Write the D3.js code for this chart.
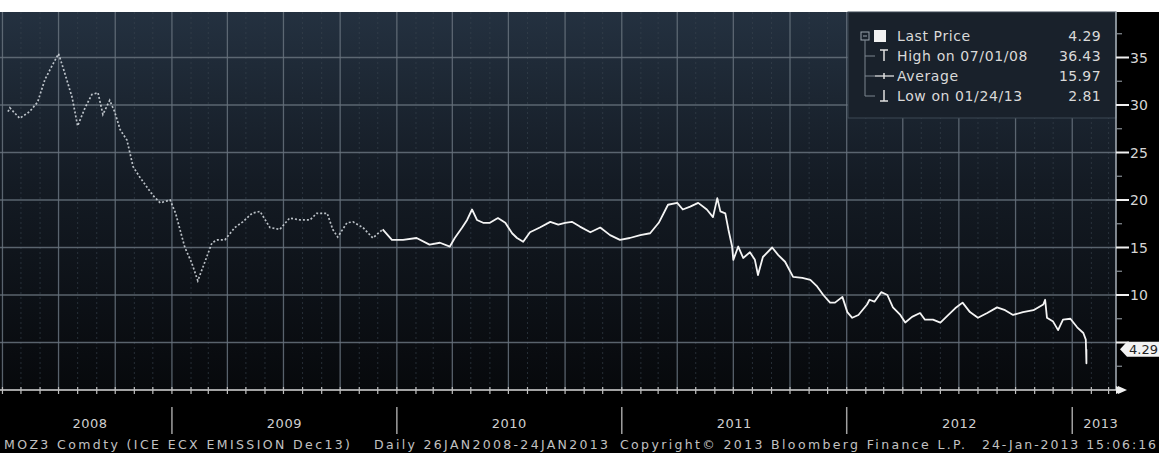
<!DOCTYPE html>
<html>
<head>
<meta charset="utf-8">
<script src="https://cdn.jsdelivr.net/npm/d3@7"></script>
<style>
  html, body { margin: 0; padding: 0; background: #000; }
  svg { display: block; }
  text { font-family: "DejaVu Sans", Verdana, sans-serif; }
</style>
</head>
<body>
<svg id="chart" width="1159" height="453"></svg>
<script>
// ---------------- DATA ----------------
const dates = [
  "2008-04-10","2008-04-13","2008-04-29","2008-05-15","2008-05-28","2008-06-09","2008-06-17","2008-07-01",
  "2008-07-08","2008-07-16","2008-07-23","2008-08-01","2008-08-13","2008-08-24","2008-09-03","2008-09-11",
  "2008-09-22","2008-09-30","2008-10-09","2008-10-20","2008-10-30","2008-11-10","2008-11-21","2008-12-01",
  "2008-12-13","2008-12-29",
  "2009-01-07","2009-01-14","2009-01-22","2009-02-02","2009-02-12","2009-02-23","2009-03-07","2009-03-16",
  "2009-03-28","2009-04-13","2009-04-26","2009-05-11","2009-05-24","2009-06-09","2009-06-25","2009-07-11",
  "2009-07-28","2009-08-13","2009-08-24","2009-09-10","2009-09-19","2009-09-27","2009-10-12","2009-10-22",
  "2009-11-07","2009-11-23","2009-12-09","2009-12-24",
  "2010-01-11","2010-02-02","2010-02-23","2010-03-12","2010-03-28","2010-04-05","2010-04-17","2010-04-25",
  "2010-05-03","2010-05-11","2010-05-21","2010-06-01","2010-06-14","2010-06-26","2010-07-07","2010-07-15",
  "2010-07-25","2010-08-05","2010-08-21","2010-09-07","2010-09-20","2010-10-01","2010-10-12","2010-10-25",
  "2010-11-11","2010-11-27","2010-12-13","2010-12-29",
  "2011-01-14","2011-01-31","2011-02-16","2011-03-02","2011-03-17","2011-04-01","2011-04-10","2011-04-22",
  "2011-05-05","2011-05-19","2011-05-29","2011-06-05","2011-06-10","2011-06-18","2011-06-23","2011-06-29",
  "2011-07-01","2011-07-09","2011-07-17","2011-07-28","2011-08-05","2011-08-10","2011-08-18","2011-09-02",
  "2011-09-12","2011-09-23","2011-10-06","2011-10-21","2011-11-03","2011-11-14","2011-11-24","2011-12-05",
  "2011-12-13","2011-12-25",
  "2012-01-02","2012-01-10","2012-01-20","2012-02-03","2012-02-07","2012-02-15","2012-02-26","2012-03-07",
  "2012-03-16","2012-03-28","2012-04-05","2012-04-16","2012-04-29","2012-05-07","2012-05-20","2012-06-01",
  "2012-06-14","2012-06-25","2012-07-07","2012-07-19","2012-08-01","2012-08-16","2012-09-01","2012-09-14",
  "2012-09-27","2012-10-13","2012-10-30","2012-11-15","2012-11-18","2012-11-21","2012-12-01","2012-12-09",
  "2012-12-17","2012-12-29",
  "2013-01-09","2013-01-19","2013-01-23","2013-01-24","2013-01-24"
];
const prices = [
  29.3,29.7,28.6,29.3,30.3,32.7,33.7,35.4,
  34.0,32.3,30.8,27.8,29.7,31.1,31.3,29.0,
  30.5,29.3,27.4,26.3,23.5,22.4,21.4,20.5,
  19.7,20.0,
  18.6,16.9,15.0,13.4,11.5,13.4,15.5,15.8,
  15.8,17.1,17.7,18.6,18.8,17.1,16.9,18.1,
  17.9,17.9,18.6,18.6,16.9,16.1,17.6,17.7,
  17.1,16.0,16.9,15.8,
  15.8,16.0,15.3,15.5,15.1,16.0,17.1,17.9,
  19.0,17.9,17.6,17.6,18.1,17.6,16.5,16.0,
  15.6,16.6,17.1,17.7,17.4,17.6,17.7,17.2,
  16.6,17.1,16.3,15.8,
  16.0,16.3,16.5,17.6,19.5,19.7,19.0,19.3,
  19.7,19.0,18.2,20.2,18.8,18.6,16.9,15.1,
  13.7,15.1,13.9,14.5,13.7,12.1,14.0,15.0,
  14.2,13.5,11.9,11.8,11.6,10.9,10.0,9.2,
  9.2,9.8,
  8.2,7.6,7.9,9.0,9.5,9.3,10.3,10.0,
  8.7,7.9,7.1,7.7,8.1,7.4,7.4,7.1,
  7.9,8.6,9.2,8.2,7.6,8.1,8.7,8.4,
  7.9,8.2,8.4,9.0,9.5,7.6,7.2,6.3,
  7.4,7.5,
  6.6,6.0,5.3,2.81,4.29
];
const yTickValues = [35, 30, 25, 20, 15, 10];
const yMinorValues = [2.5, 7.5, 12.5, 17.5, 22.5, 27.5, 32.5, 37.5];
const yGridValues = [5, 10, 15, 20, 25, 30, 35];
const yearLabels = ["2008", "2009", "2010", "2011", "2012", "2013"];
const legendLabels = ["Last Price", "High on 07/01/08", "Average", "Low on 01/24/13"];
const legendValues = ["4.29", "36.43", "15.97", "2.81"];
const lastPrice = 4.29;
const lastPriceLabel = "4.29";
const footerParts = [
  "MOZ3 Comdty (ICE ECX EMISSION  Dec13)",
  "Daily 26JAN2008-24JAN2013",
  "Copyright\u00A9 2013 Bloomberg Finance L.P.",
  "24-Jan-2013 15:06:16"
];
const dottedUntil = "2009-12-20";

// ---------------- LAYOUT ----------------
const W = 1159, H = 453;
const plot = { left: 0, right: 1116, top: 12, bottom: 390 };
const parse = d3.utcParse("%Y-%m-%d");
const data = dates.map((d, i) => ({ date: parse(d), value: prices[i] }));

const x = d3.scaleUtc()
  .domain([parse("2008-03-28"), parse("2013-03-13")])
  .range([plot.left, plot.right]);
const y = d3.scaleLinear().domain([0, 40]).range([390, 10]);

const svg = d3.select("#chart");
const defs = svg.append("defs");

const grad = defs.append("linearGradient").attr("id", "bg")
  .attr("x1", 0).attr("y1", 0).attr("x2", 0).attr("y2", 1);
grad.append("stop").attr("offset", "0%").attr("stop-color", "#243140");
grad.append("stop").attr("offset", "45%").attr("stop-color", "#141b24");
grad.append("stop").attr("offset", "100%").attr("stop-color", "#07090c");

defs.append("clipPath").attr("id", "plotClip").append("rect")
  .attr("x", plot.left).attr("y", plot.top)
  .attr("width", plot.right - plot.left).attr("height", plot.bottom - plot.top);
defs.append("clipPath").attr("id", "yearClip").append("rect")
  .attr("x", 0).attr("y", 395).attr("width", 1120).attr("height", 45);

// page background
svg.append("rect").attr("width", W).attr("height", H).attr("fill", "#000");
svg.append("rect").attr("width", W).attr("height", plot.top).attr("fill", "#ffffff");

// plot background
svg.append("rect")
  .attr("x", plot.left).attr("y", plot.top)
  .attr("width", plot.right - plot.left).attr("height", plot.bottom - plot.top)
  .attr("fill", "url(#bg)");

const gridG = svg.append("g").attr("clip-path", "url(#plotClip)");

// minor monthly vertical lines
const months = x.ticks(d3.utcMonth.every(1)).filter(d => d.getUTCMonth() % 3 !== 0);
gridG.selectAll("line.vminor").data(months).join("line")
  .attr("x1", d => x(d)).attr("x2", d => x(d))
  .attr("y1", plot.top).attr("y2", plot.bottom)
  .attr("stroke", "#3a4550").attr("stroke-width", 1)
  .attr("stroke-dasharray", "2,3").attr("opacity", 0.6);

// quarterly vertical grid lines
const quarters = x.ticks(d3.utcMonth.every(3));
gridG.selectAll("line.vgrid").data(quarters).join("line")
  .attr("x1", d => x(d)).attr("x2", d => x(d))
  .attr("y1", plot.top).attr("y2", plot.bottom)
  .attr("stroke", "#67727d").attr("stroke-width", 1.3).attr("opacity", 0.85);

// horizontal grid lines
gridG.selectAll("line.hgrid").data(yGridValues).join("line")
  .attr("x1", plot.left).attr("x2", plot.right)
  .attr("y1", d => y(d)).attr("y2", d => y(d))
  .attr("stroke", "#67727d").attr("stroke-width", 1.3).attr("opacity", 0.85);

// price line
const line = d3.line().x(d => x(d.date)).y(d => y(d.value));
const cut = parse(dottedUntil);
const early = data.filter(d => d.date <= cut);
const late = data.filter(d => d.date >= early[early.length - 1].date);
const lineG = svg.append("g").attr("clip-path", "url(#plotClip)");
lineG.append("path").datum(early).attr("d", line)
  .attr("fill", "none").attr("stroke", "#d8dee4").attr("stroke-width", 1.7)
  .attr("stroke-dasharray", "2,2").attr("opacity", 0.85);
lineG.append("path").datum(late).attr("d", line)
  .attr("fill", "none").attr("stroke", "#f4f4f4").attr("stroke-width", 1.8)
  .attr("stroke-linejoin", "round");

// ---------------- LEGEND ----------------
const lg = svg.append("g");
lg.append("rect").attr("x", 848).attr("y", 12).attr("width", 268).attr("height", 106)
  .attr("fill", "#19212b").attr("stroke", "#3d4855").attr("stroke-width", 1);
const rowY = i => 36 + i * 20;
// tree
lg.append("rect").attr("x", 861).attr("y", 32).attr("width", 8).attr("height", 8)
  .attr("fill", "none").attr("stroke", "#9aa3ad").attr("stroke-width", 1);
lg.append("line").attr("x1", 863).attr("x2", 867).attr("y1", 36).attr("y2", 36).attr("stroke", "#9aa3ad");
lg.append("line").attr("x1", 865).attr("x2", 865).attr("y1", 40).attr("y2", rowY(3))
  .attr("stroke", "#7d8690").attr("stroke-width", 1);
[1, 2, 3].forEach(i => {
  lg.append("line").attr("x1", 865).attr("x2", 875).attr("y1", rowY(i)).attr("y2", rowY(i))
    .attr("stroke", "#7d8690").attr("stroke-width", 1);
});
// icons
lg.append("rect").attr("x", 874).attr("y", 30).attr("width", 12).attr("height", 12).attr("fill", "#f2f2f2");
lg.append("line").attr("x1", 880).attr("x2", 888).attr("y1", rowY(1) - 6).attr("y2", rowY(1) - 6).attr("stroke", "#e0e0e0").attr("stroke-width", 1.5);
lg.append("line").attr("x1", 884).attr("x2", 884).attr("y1", rowY(1) - 6).attr("y2", rowY(1) + 5).attr("stroke", "#e0e0e0").attr("stroke-width", 1.5);
lg.append("line").attr("x1", 875).attr("x2", 894).attr("y1", rowY(2)).attr("y2", rowY(2)).attr("stroke", "#e0e0e0").attr("stroke-width", 1.3);
lg.append("line").attr("x1", 884).attr("x2", 884).attr("y1", rowY(2) - 3).attr("y2", rowY(2) + 3).attr("stroke", "#e0e0e0").attr("stroke-width", 1.5);
lg.append("line").attr("x1", 880).attr("x2", 888).attr("y1", rowY(3) + 5).attr("y2", rowY(3) + 5).attr("stroke", "#e0e0e0").attr("stroke-width", 1.5);
lg.append("line").attr("x1", 884).attr("x2", 884).attr("y1", rowY(3) - 6).attr("y2", rowY(3) + 5).attr("stroke", "#e0e0e0").attr("stroke-width", 1.5);

lg.selectAll("text.lab").data(legendLabels).join("text")
  .attr("x", 897).attr("y", (d, i) => rowY(i)).attr("dy", "0.36em")
  .attr("fill", "#d9d9d9").attr("font-size", 14).attr("letter-spacing", 0.6)
  .text(d => d);
lg.selectAll("text.val").data(legendValues).join("text")
  .attr("x", 1101).attr("y", (d, i) => rowY(i)).attr("dy", "0.36em")
  .attr("text-anchor", "end")
  .attr("fill", "#d9d9d9").attr("font-size", 14).attr("letter-spacing", 0.4)
  .text(d => d);

// ---------------- RIGHT AXIS ----------------
const ax = svg.append("g");
ax.append("line").attr("x1", plot.right).attr("x2", plot.right)
  .attr("y1", plot.top).attr("y2", plot.bottom)
  .attr("stroke", "#a9b0b8").attr("stroke-width", 1.5);
ax.selectAll("line.minor").data(yMinorValues).join("line")
  .attr("x1", plot.right).attr("x2", plot.right + 6)
  .attr("y1", d => y(d)).attr("y2", d => y(d))
  .attr("stroke", "#8a9097").attr("stroke-width", 1.2);
ax.selectAll("line.major").data(yGridValues).join("line")
  .attr("x1", plot.right).attr("x2", plot.right + 13)
  .attr("y1", d => y(d)).attr("y2", d => y(d))
  .attr("stroke", "#f0f0f0").attr("stroke-width", 2);
ax.selectAll("text.ylab").data(yTickValues).join("text")
  .attr("x", 1130).attr("y", d => y(d)).attr("dy", "0.36em")
  .attr("fill", "#d6d6d6").attr("font-size", 14)
  .text(d => d);
// bottom arrow on y axis
ax.append("path")
  .attr("d", `M${plot.right + 2},${y(0) - 4} L${plot.right + 11},${y(0)} L${plot.right + 2},${y(0) + 4} Z`)
  .attr("fill", "#f0f0f0");

// last price tag
const ty = y(lastPrice);
ax.append("path")
  .attr("d", `M1120,${ty} L1127,${ty - 7.5} L1163,${ty - 7.5} L1163,${ty + 7.5} L1127,${ty + 7.5} Z`)
  .attr("fill", "#f2f2f2");
ax.append("text").attr("x", 1129).attr("y", ty).attr("dy", "0.36em")
  .attr("fill", "#222").attr("font-size", 13).text(lastPriceLabel);

// ---------------- BOTTOM AXIS ----------------
const bx = svg.append("g");
bx.append("line").attr("x1", plot.left).attr("x2", plot.right)
  .attr("y1", plot.bottom).attr("y2", plot.bottom)
  .attr("stroke", "#d8d8d8").attr("stroke-width", 1.5);
const allMonths = x.ticks(d3.utcMonth.every(1));
bx.selectAll("line.mt").data(allMonths).join("line")
  .attr("x1", d => x(d)).attr("x2", d => x(d))
  .attr("y1", plot.bottom - 3).attr("y2", plot.bottom + 4)
  .attr("stroke", "#bfbfbf").attr("stroke-width", 1.2);
bx.append("path")
  .attr("d", `M${plot.right},${plot.bottom - 4} L${plot.right + 9},${plot.bottom} L${plot.right},${plot.bottom + 4} Z`)
  .attr("fill", "#f0f0f0");

const yearStarts = yearLabels.map(t => parse(t + "-01-01"));
// separators
bx.selectAll("line.sep").data(yearStarts.slice(1)).join("line")
  .attr("x1", d => x(d)).attr("x2", d => x(d))
  .attr("y1", 407).attr("y2", 434)
  .attr("stroke", "#a0a0a0").attr("stroke-width", 1.5);
// year labels
const firstX = x(data[0].date);
const yg = bx.append("g").attr("clip-path", "url(#yearClip)");
yg.selectAll("text.yr").data(yearLabels).join("text")
  .attr("x", (d, i) => {
    if (i === 0) return (firstX + x(yearStarts[1])) / 2;
    if (i === yearLabels.length - 1) return x(yearStarts[i]) + 11;
    return (x(yearStarts[i]) + x(yearStarts[i + 1])) / 2;
  })
  .attr("y", 423).attr("dy", "0.36em")
  .attr("text-anchor", (d, i) => i === yearLabels.length - 1 ? "start" : "middle")
  .attr("fill", "#cfcfcf").attr("font-size", 13).attr("letter-spacing", 0.5)
  .text(d => d);

// footer
const footerX = [4, 374, 620, 982];
const footerLen = [346, 234, 345, 174];
bx.selectAll("text.ft").data(footerParts).join("text")
  .attr("x", (d, i) => footerX[i]).attr("y", 444).attr("dy", "0.36em")
  .attr("fill", "#c2c2c2").attr("font-size", 12.5)
  .attr("textLength", (d, i) => footerLen[i]).attr("lengthAdjust", "spacing")
  .text(d => d);
</script>
</body>
</html>
